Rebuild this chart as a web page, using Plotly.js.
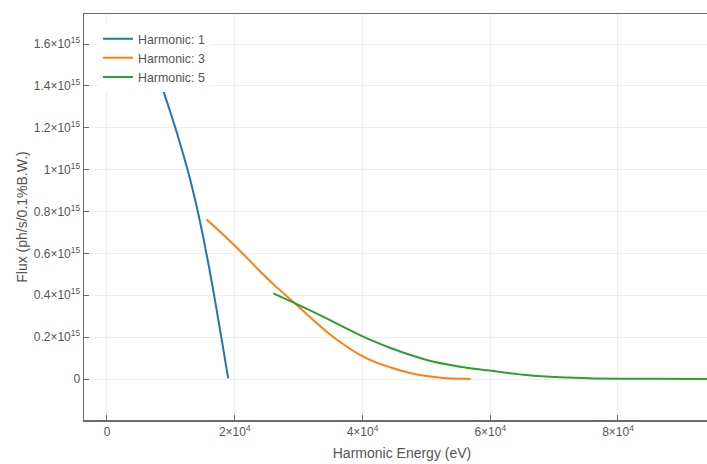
<!DOCTYPE html>
<html>
<head>
<meta charset="utf-8">
<script src="https://cdn.plot.ly/plotly-3.0.1.min.js"></script>
<style>
html,body{margin:0;padding:0;overflow:hidden;background:#fff;}
#chart{width:740px;height:464px;}
</style>
</head>
<body>
<div id="chart"></div>
<script>
// Harmonic 1
const h1Energy = [8000, 8920, 10000, 11000, 12000, 13000, 14000, 15000, 16000, 17000, 18000, 18980];
const h1Flux   = [1.44e15, 1.367e15, 1.267e15, 1.170e15, 1.066e15, 0.955e15, 0.830e15, 0.688e15, 0.530e15, 0.360e15, 0.180e15, 0.003e15];
// Harmonic 3
const h3Energy = [15600, 18000, 20030, 22000, 23940, 26500, 29150, 31800, 34390, 37000, 39600, 42200, 44810, 47400, 50040, 53170, 56930];
const h3Flux   = [0.762e15, 0.695e15, 0.636e15, 0.576e15, 0.515e15, 0.440e15, 0.369e15, 0.295e15, 0.226e15, 0.166e15, 0.115e15, 0.078e15, 0.051e15, 0.029e15, 0.014e15, 0.004e15, 0.0];
// Harmonic 5
const h5Energy = [26030, 29150, 31800, 34390, 37000, 39600, 42200, 44810, 47400, 50040, 55240, 60460, 65680, 70890, 76100, 85000, 95000];
const h5Flux   = [0.409e15, 0.366e15, 0.328e15, 0.290e15, 0.249e15, 0.210e15, 0.175e15, 0.143e15, 0.116e15, 0.091e15, 0.059e15, 0.038e15, 0.019e15, 0.008e15, 0.003e15, 0.001e15, 0.0];

const names = ['Harmonic: 1', 'Harmonic: 3', 'Harmonic: 5'];
const colors = ['#1f77b4', '#ff7f0e', '#2ca02c'];

const xs = [h1Energy, h3Energy, h5Energy];
const ys = [h1Flux, h3Flux, h5Flux];
const data = xs.map((x, i) => ({
  x: x, y: ys[i], type: 'scatter', mode: 'lines', name: names[i],
  line: {color: colors[i], width: 2, shape: 'spline', smoothing: 0.6}
}));

const axisCommon = {
  showline: true, linecolor: '#6b6b6b', linewidth: 1.5,
  ticks: 'inside', ticklen: 5, tickcolor: '#6b6b6b', tickwidth: 1,
  gridcolor: '#eeeeee', gridwidth: 1, zeroline: false,
  exponentformat: 'power', tickfont: {size: 12, color: '#555'}
};

const layout = {
  width: 740, height: 464,
  margin: {l: 84, r: 20, t: 14, b: 44},
  paper_bgcolor: '#fff', plot_bgcolor: '#fff',
  font: {family: 'Liberation Sans, Arial, sans-serif', color: '#555', size: 12},
  xaxis: Object.assign({}, axisCommon, {
    range: [-3600, 95970], dtick: 20000, mirror: true,
    title: {text: 'Harmonic Energy (eV)', font: {size: 14, color: '#555'}, standoff: 10}
  }),
  yaxis: Object.assign({}, axisCommon, {
    range: [-0.1958e15, 1.7433e15], dtick: 0.2e15,
    title: {text: 'Flux (ph/s/0.1%B.W.)', font: {size: 14, color: '#555'}, standoff: 3}
  }),
  showlegend: true,
  legend: {x: 0.022, y: 0.975, xanchor: 'left', yanchor: 'top', bgcolor: '#fff',
           font: {size: 12.4, color: '#555'}}
};

Plotly.newPlot('chart', data, layout, {displayModeBar: false, staticPlot: true});
</script>
</body>
</html>
